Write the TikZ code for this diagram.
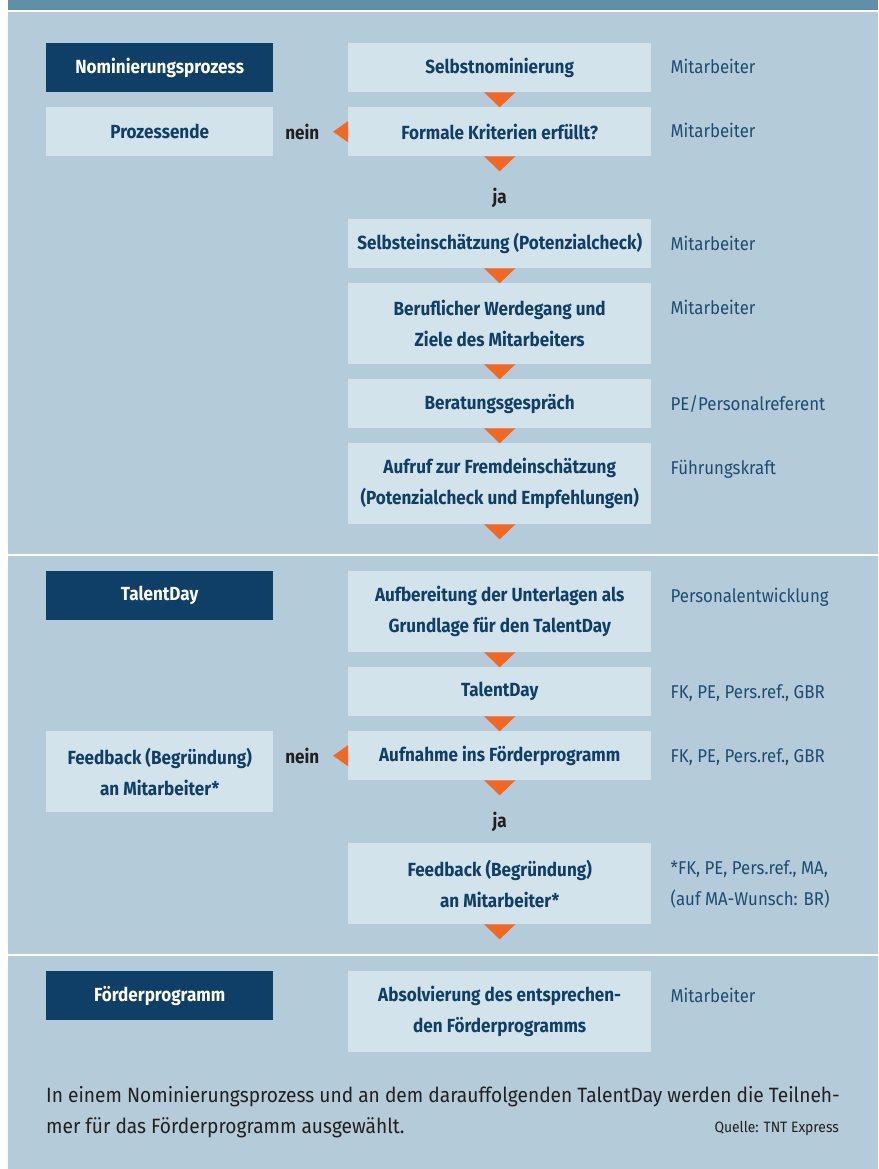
\documentclass[tikz,border=0pt]{standalone}
\usepackage{fontspec}
\setmainfont{Fira Sans}
\newfontfamily\boxfam{Fira Sans}[FakeStretch=0.9]
\newfontfamily\lblfam{Fira Sans}[FakeStretch=0.91]
\newfontfamily\bodyfam{Fira Sans}[FakeStretch=0.925]
\usetikzlibrary{calc}
\definecolor{bg}{HTML}{B4CCD9}
\definecolor{band}{HTML}{5F90A8}
\definecolor{dark}{HTML}{0F3E66}
\definecolor{light}{HTML}{D3E3EB}
\definecolor{navy}{HTML}{0F3E66}
\definecolor{lbltext}{HTML}{1F4B72}
\definecolor{ink}{HTML}{231F20}
\definecolor{arrow}{HTML}{F26722}
\newcommand\boxfnt{\boxfam\bfseries\fontsize{19}{31}\selectfont}
\newcommand\lblfnt{\lblfam\fontsize{18.5}{31}\selectfont}
\tikzset{
  dbox/.style={fill=dark, text=white, font=\boxfnt, minimum width=227pt,
    minimum height=49pt, inner sep=0pt, anchor=north west, align=center},
  lbox/.style={dbox, fill=light, text=navy},
  cbox/.style={lbox, minimum width=303pt},
  tall/.style={minimum height=81pt},
  lbl/.style={anchor=base west, inner sep=0pt, text=lbltext, font=\lblfnt},
  yn/.style={anchor=base, inner sep=0pt, text=ink, font=\boxfnt},
  tri/.style={fill=arrow, draw=none},
  captxt/.style={anchor=base west, inner sep=0pt, text=ink, font=\bodyfam\fontsize{20.7}{33}\selectfont}
}
\newcommand\downtri[1]{\fill[tri] ($(#1.south)+(-15.5,0)$) -- ($(#1.south)+(15.5,0)$) -- ($(#1.south)+(0,15)$) -- cycle;}
\newcommand\lefttri[1]{\fill[tri] ($(#1.west)+(0,-10.5)$) -- ($(#1.west)+(0,10.5)$) -- ($(#1.west)+(-15,0)$) -- cycle;}
\newcommand\lblat[3]{\node[lbl] (#1) at ($(#2.north east)+(19,31)$) {#3};}
\begin{document}
\begin{tikzpicture}[x=1pt,y=-1pt]
\useasboundingbox (0,0) rectangle (878,1169);
\fill[white] (0,0) rectangle (878,1169);
\fill[bg] (8,0) rectangle (878,1169);
\fill[band] (8,0) rectangle (878,10);
\fill[white] (8,10) rectangle (878,11.7);
\fill[white] (8,554.2) rectangle (878,556);
\fill[white] (8,954) rectangle (878,955.8);

% Section 1
\node[dbox] (n1) at (46,43) {Nominierungsprozess};
\node[cbox] (s1) at (348,43) {Selbstnominierung};
\lblat{l1}{s1}{Mitarbeiter}
\node[lbox] (p1) at (46,107) {Prozessende};
\node[cbox] (s2) at (348,107) {Formale Kriterien erfüllt?};
\lblat{l2}{s2}{Mitarbeiter}
\node[yn] (nein1) at ($(s2.west)+(-45.7,7.5)$) {nein};
\node[yn] (ja1) at ($(s2.south)+(0,47)$) {ja};
\node[cbox] (s3) at (348,219) {Selbsteinschätzung (Potenzialcheck)};
\lblat{l3}{s3}{Mitarbeiter}
\node[cbox,tall] (s4) at (348,283) {Beruflicher Werdegang und\\Ziele des Mitarbeiters};
\lblat{l4}{s4}{Mitarbeiter}
\node[cbox] (s5) at (348,379) {Beratungsgespräch};
\lblat{l5}{s5}{PE/Personalreferent}
\node[cbox,tall] (s6) at (348,443) {Aufruf zur Fremdeinschätzung\\(Potenzialcheck und Empfehlungen)};
\lblat{l6}{s6}{Führungskraft}
\downtri{s1}\downtri{s2}\downtri{s3}\downtri{s4}\downtri{s5}\downtri{s6}
\lefttri{s2}

% Section 2
\node[dbox] (n2) at (46,571) {TalentDay};
\node[cbox,tall] (t1) at (348,571) {Aufbereitung der Unterlagen als\\Grundlage für den TalentDay};
\lblat{m1}{t1}{Personalentwicklung}
\node[cbox] (t2) at (348,667) {TalentDay};
\lblat{m2}{t2}{FK, PE, Pers.ref., GBR}
\node[lbox,tall] (fb) at (46,731) {Feedback (Begründung)\\an Mitarbeiter*};
\node[cbox] (t3) at (348,731) {Aufnahme ins Förderprogramm};
\lblat{m3}{t3}{FK, PE, Pers.ref., GBR}
\node[yn] (nein2) at ($(t3.west)+(-45.7,7.5)$) {nein};
\node[yn] (ja2) at ($(t3.south)+(0,47.5)$) {ja};
\node[cbox,tall] (t4) at (348,843) {Feedback (Begründung)\\an Mitarbeiter*};
\lblat{m4}{t4}{*FK, PE, Pers.ref., MA,}
\node[lbl] (m4b) at ($(m4.base west)+(0,31)$) {(auf MA-Wunsch: BR)};
\downtri{t1}\downtri{t2}\downtri{t3}\downtri{t4}
\lefttri{t3}

% Section 3
\node[dbox] (n3) at (46,971) {Förderprogramm};
\node[cbox,tall] (f1) at (348,971) {Absolvierung des entsprechen-\\den Förderprogramms};
\lblat{o1}{f1}{Mitarbeiter}

% Caption
\node[captxt] (cap1) at (46,1102)
  {In einem Nominierungsprozess und an dem darauffolgenden TalentDay werden die Teilneh-};
\node[captxt] (cap2) at (46,1133)
  {mer für das Förderprogramm ausgewählt.};
\node[anchor=base east, inner sep=0pt, text=ink, font=\bodyfam\fontsize{15}{16}\selectfont] (src) at (839,1132.5)
  {Quelle: TNT Express};
\end{tikzpicture}
\end{document}
